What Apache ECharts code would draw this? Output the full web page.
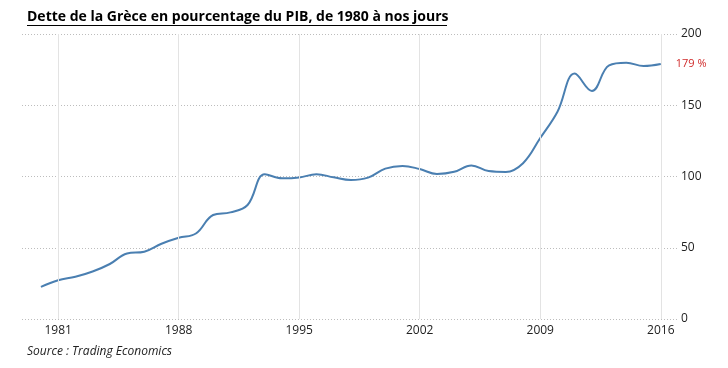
<!DOCTYPE html>
<html>
<head>
<meta charset="utf-8">
<script src="https://cdn.jsdelivr.net/npm/echarts@6/dist/echarts.min.js"></script>
<style>html,body{margin:0;padding:0;background:#fff}#c{width:728px;height:368px}</style>
</head>
<body>
<div id="c"></div>
<script>
const years = [1980,1981,1982,1983,1984,1985,1986,1987,1988,1989,1990,1991,1992,1993,1994,1995,1996,1997,1998,1999,2000,2001,2002,2003,2004,2005,2006,2007,2008,2009,2010,2011,2012,2013,2014,2015,2016];
const debtPct = [22.6,27.2,29.6,33.3,38.6,46.0,47.2,52.8,57.0,60.0,73.0,74.8,80.0,101.5,98.7,99.3,101.6,99.4,97.5,99.2,105.5,107.4,105.2,101.8,103.3,107.8,103.8,103.2,109.3,127.0,145.5,172.2,160.0,178.0,179.8,177.6,179.0];
const xTicks = [1981,1988,1995,2002,2009,2016];
const yTicks = [0,50,100,150,200];
const titleText = 'Dette de la Grèce en pourcentage du PIB, de 1980 à nos jours';
const sourceText = 'Source : Trading Economics';

const chart = echarts.init(document.getElementById('c'));
chart.setOption({
  backgroundColor: '#fff',
  animation: false,
  title: [{
    text: titleText, left: 22, top: 5,
    textStyle: {fontFamily: 'Open Sans', fontWeight: 'bold', fontSize: 14, color: '#000'}
  }, {
    text: sourceText, left: 22, top: 341,
    textStyle: {fontFamily: 'Open Sans', fontStyle: 'italic', fontWeight: 'normal', fontSize: 12, color: '#222'}
  }],
  graphic: [{
    type: 'line', shape: {x1: 27, y1: 25.5, x2: 447, y2: 25.5},
    style: {stroke: '#000', lineWidth: 1}
  }],
  grid: {left: 22, right: 50, top: 34, bottom: 49},
  xAxis: {
    type: 'value', min: 1978.9, max: 2017,
    axisLine: {show: false}, axisTick: {show: false}, splitLine: {show: false},
    axisLabel: {customValues: xTicks, formatter: v => String(v), color: '#222', fontFamily: 'Open Sans', fontSize: 12, margin: 6}
  },
  yAxis: {
    type: 'value', position: 'right', min: 0, max: 200, interval: 50,
    axisLine: {show: false}, axisTick: {show: false},
    axisLabel: {customValues: yTicks, color: '#222', fontFamily: 'Open Sans', fontSize: 12, margin: 3},
    splitLine: {show: true, lineStyle: {type: [1, 2], color: '#bdbdbd', width: 1}}
  },
  series: [{
    type: 'line',
    data: years.map((y, i) => [y, debtPct[i]]),
    smooth: 0.4, symbol: 'none',
    lineStyle: {color: '#4a7fb1', width: 2},
    endLabel: {show: true, distance: 15, formatter: p => Math.round(p.value[1]) + ' %', color: '#d02a2a', fontFamily: 'Open Sans', fontSize: 11},
    markLine: {
      silent: true, symbol: 'none', label: {show: false},
      lineStyle: {type: 'solid', color: '#e3e3e3', width: 1},
      data: xTicks.map(v => ({xAxis: v}))
    },
    z: 3
  }]
});
</script>
</body>
</html>
